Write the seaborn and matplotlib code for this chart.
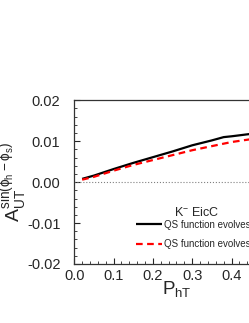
import numpy as np
import pandas as pd
import matplotlib
matplotlib.use("Agg")
import matplotlib.pyplot as plt
from matplotlib.ticker import MultipleLocator, FormatStrFormatter
import seaborn as sns

# data
pht = [0.02, 0.05, 0.10, 0.15, 0.20, 0.25, 0.30, 0.35, 0.38, 0.40, 0.45, 0.50, 0.55, 0.60]
asym_black = [0.0008, 0.0016, 0.0032, 0.0047, 0.0061, 0.0075, 0.0090, 0.0102, 0.0110, 0.0112, 0.0118, 0.0124, 0.0129, 0.0133]
asym_red = [0.0006, 0.0013, 0.0028, 0.0042, 0.0054, 0.0066, 0.0078, 0.0088, 0.0094, 0.0098, 0.0105, 0.0110, 0.0114, 0.0117]
labels = ["QS function evolves with TMD evolution", "QS function evolves with DGLAP evolution"]
xticks = [0.0, 0.1, 0.2, 0.3, 0.4]
yticks = [-0.02, -0.01, 0.00, 0.01, 0.02]

df = pd.DataFrame({
    "PhT": pht * 2,
    "A": asym_black + asym_red,
    "curve": [labels[0]] * len(pht) + [labels[1]] * len(pht),
})

sns.set_style("ticks")
plt.rcParams['font.family'] = ['Liberation Sans', 'DejaVu Sans']
plt.rcParams['mathtext.fontset'] = 'custom'
plt.rcParams['mathtext.rm'] = 'Liberation Sans'

fig = plt.figure(figsize=(2.49, 3.23), dpi=100)
ax = fig.add_axes([0.2984, 0.1827, 1.2627, 0.5068])

ax.axhline(0, color="gray", lw=0.8, ls=":")
sns.lineplot(data=df, x="PhT", y="A", hue="curve", style="curve",
             palette=["black", "red"], dashes=[(1, 0), (3, 2)], lw=1.6, ax=ax)

ax.set_xlim(0, 0.8)
ax.set_ylim(-0.02, 0.02)
ax.set_xticks(xticks)
ax.set_yticks(yticks)
ax.xaxis.set_minor_locator(MultipleLocator(0.02))
ax.yaxis.set_minor_locator(MultipleLocator(0.002))
ax.xaxis.set_major_formatter(FormatStrFormatter('%.1f'))
ax.yaxis.set_major_formatter(FormatStrFormatter('%.2f'))
ax.tick_params(which="both", direction="in", top=False, right=False, labelsize=10.5)
ax.tick_params(axis="y", which="major", length=4, pad=10)
ax.tick_params(axis="x", which="major", length=4, pad=3.5)
ax.tick_params(which="minor", length=2)
for s in ax.spines.values():
    s.set_linewidth(0.9)
    s.set_color("#333333")

ax.set_xlabel(r"$\mathrm{P}_{\mathrm{hT}}$", fontsize=13.5)
ax.set_ylabel(r"$\mathrm{A}_{\mathrm{UT}}^{\mathrm{sin(ϕ_h-ϕ_s)}}$", fontsize=14)
ax.xaxis.set_label_coords(0.325, -0.095)
ax.yaxis.set_label_coords(-0.14, 0.5)

leg = ax.legend(loc="upper left", bbox_to_anchor=(127 / 249, 1 - 211 / 323),
                bbox_transform=fig.transFigure, frameon=False, fontsize=7,
                handlelength=2.7, labelspacing=0.95, handletextpad=0.25)
fig.text(197 / 249, 1 - 213 / 323, r"K$^{-}$ EicC", fontsize=9, ha="center", va="center")

fig.savefig("out.png", dpi=100)
